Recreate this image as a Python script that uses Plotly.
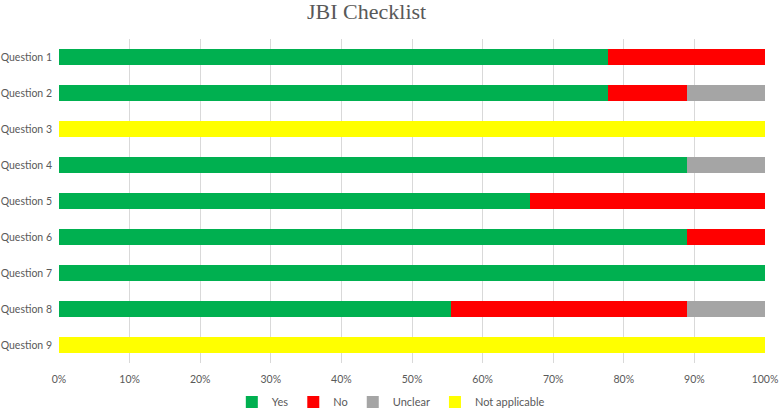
import plotly.graph_objects as go

questions = [f"Question {i}" for i in range(1, 10)]

# number of studies (out of 9) per answer
yes = [7, 7, 0, 8, 6, 8, 9, 5, 0]
no = [2, 1, 0, 0, 3, 1, 0, 3, 0]
unclear = [0, 1, 0, 1, 0, 0, 0, 1, 0]
not_applicable = [0, 0, 9, 0, 0, 0, 0, 0, 9]

series = [
    ("Yes", yes, "#00B050"),
    ("No", no, "#FF0000"),
    ("Unclear", unclear, "#A5A5A5"),
    ("Not applicable", not_applicable, "#FFFF00"),
]

fig = go.Figure()
for name, vals, colour in series:
    fig.add_trace(go.Bar(
        y=questions, x=vals, name=name, orientation="h",
        marker=dict(color=colour, line=dict(width=0)),
    ))

fig.update_layout(
    barmode="stack", barnorm="percent", bargap=0.58,
    width=780, height=408,
    margin=dict(l=59, r=15, t=39, b=45, autoexpand=False),
    paper_bgcolor="white", plot_bgcolor="white",
    font=dict(family="Lato, Liberation Sans, sans-serif", size=10.5, color="#595959"),
    title=dict(text="JBI Checklist", x=0.47, xanchor="center",
               yref="container", y=0.992, yanchor="top", pad=dict(t=0, b=0),
               font=dict(family="Liberation Serif, serif", size=22, color="#595959")),
    legend=dict(orientation="h", x=0.47, xanchor="center",
                y=-0.12, yanchor="middle",
                font=dict(size=11), itemwidth=30, traceorder="normal",
                tracegroupgap=0),
)
fig.update_xaxes(range=[0, 100], dtick=10, ticksuffix="%", showgrid=True,
                 gridcolor="#D9D9D9", gridwidth=1, zeroline=False, showline=False,
                 ticks="", automargin=False, ticklabelstandoff=8)
fig.update_yaxes(autorange="reversed", showgrid=False, ticks="", ticklen=0,
                 showline=False, automargin=False, ticklabelstandoff=6)

# page body has a default 8px margin; drop it so the figure sits at the corner
fig.write_html("out.html", config={"displayModeBar": False},
               post_script="document.body.style.margin='0';")
